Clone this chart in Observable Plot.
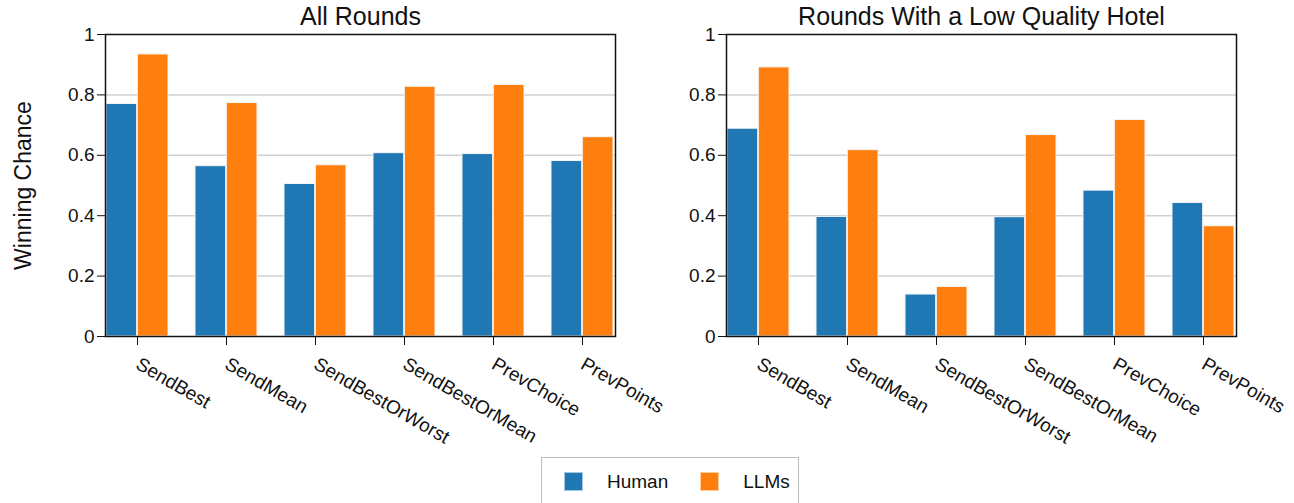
<!DOCTYPE html>
<html>
<head>
<meta charset="utf-8">
<script src="https://cdn.jsdelivr.net/npm/d3@7"></script>
<script src="https://cdn.jsdelivr.net/npm/@observablehq/plot@0.6"></script>
<style>
  html, body { margin: 0; padding: 0; background: white; }
  #root { position: relative; width: 1294px; height: 503px; overflow: hidden; font-family: "Liberation Sans", Arial, sans-serif; }
  .panel { position: absolute; top: 0; }
  #legend { position: absolute; left: 541px; top: 457px; width: 258px; height: 60px; border: 1px solid #bdbdbd; box-sizing: border-box; display: flex; align-items: flex-start; padding-top: 14px; padding-left: 22px; font-size: 19px; color: #111; white-space: nowrap; }
  #legend .sw { flex: 0 0 19px; width: 19px; height: 19px; box-sizing: border-box; border: 1px solid rgba(255,255,255,0.6); margin-right: 24px; }
  #legend .lab { flex: 0 0 auto; margin-right: 32px; line-height: 20px; }
</style>
</head>
<body>
<div id="root">
  <div id="left" class="panel" style="left:0px"></div>
  <div id="right" class="panel" style="left:640px"></div>
  <div id="legend"></div>
</div>
<script>
const categories = ["SendBest", "SendMean", "SendBestOrWorst", "SendBestOrMean", "PrevChoice", "PrevPoints"];
const groups = ["Human", "LLMs"];
const colors = ["#1f77b4", "#ff7f0e"];
const yTicks = [0, 0.2, 0.4, 0.6, 0.8, 1];
const gridTicks = [0.2, 0.4, 0.6, 0.8];

const allHuman = [0.770, 0.564, 0.505, 0.607, 0.604, 0.581];
const allLLM   = [0.934, 0.773, 0.567, 0.827, 0.833, 0.660];
const lowHuman = [0.688, 0.396, 0.139, 0.395, 0.483, 0.442];
const lowLLM   = [0.891, 0.617, 0.164, 0.667, 0.717, 0.365];

const titles = ["All Rounds", "Rounds With a Low Quality Hotel"];
const yLabel = "Winning Chance";

function panel({title, human, llm, ylabel, width, marginLeft, marginRight}) {
  const data = categories.flatMap((c, i) => [
    {category: c, group: groups[0], value: human[i]},
    {category: c, group: groups[1], value: llm[i]}
  ]);
  const pad = 0.3;
  const plotW = width - marginLeft - marginRight;
  const half = plotW / (categories.length - pad) * (1 - pad) / 2;
  const marks = [
    Plot.gridY(gridTicks, {stroke: "#d0d0d0", strokeOpacity: 1, strokeWidth: 1.5}),
    Plot.barY(data.filter(d => d.group === groups[0]), {x: "category", y: "value", fill: "group", insetRight: half, stroke: "#f4f4f4", strokeWidth: 1}),
    Plot.barY(data.filter(d => d.group === groups[1]), {x: "category", y: "value", fill: "group", insetLeft: half, stroke: "#f4f4f4", strokeWidth: 1}),
    Plot.axisY({ticks: yTicks, tickFormat: d => String(d), tickSize: 8, tickPadding: 3, fontSize: 19, label: null, stroke: "#111"}),
    Plot.axisX({tickRotate: 30, tickSize: 9, tickPadding: 17, textAnchor: "start", fontSize: 19, label: null, stroke: "#111"}),
    Plot.frame({stroke: "#111", strokeWidth: 1.5}),
    Plot.text([title], {frameAnchor: "top", lineAnchor: "bottom", dy: -10, fontSize: 25, fill: "#111"})
  ];
  if (ylabel) marks.push(Plot.text([ylabel], {frameAnchor: "left", textAnchor: "middle", rotate: -90, dx: -82, fontSize: 23, fill: "#111"}));
  return Plot.plot({
    width, height: 450,
    marginLeft, marginRight, marginTop: 34, marginBottom: 114,
    style: {background: "transparent", overflow: "visible", fontFamily: "'Liberation Sans', Arial, sans-serif", fontSize: "19px", color: "#111"},
    x: {domain: categories, paddingInner: pad, paddingOuter: 0, label: null, axis: null},
    y: {domain: [0, 1], label: null, axis: null},
    color: {domain: groups, range: colors},
    marks
  });
}

document.getElementById("left").append(panel({title: titles[0], human: allHuman, llm: allLLM, ylabel: yLabel, width: 640, marginLeft: 105, marginRight: 25}));
document.getElementById("right").append(panel({title: titles[1], human: lowHuman, llm: lowLLM, ylabel: null, width: 654, marginLeft: 86, marginRight: 58}));

const legend = document.getElementById("legend");
groups.forEach((g, i) => {
  const sw = document.createElement("div");
  sw.className = "sw";
  sw.style.background = colors[i];
  const lab = document.createElement("div");
  lab.className = "lab";
  lab.textContent = g;
  legend.append(sw, lab);
});
</script>
</body>
</html>
